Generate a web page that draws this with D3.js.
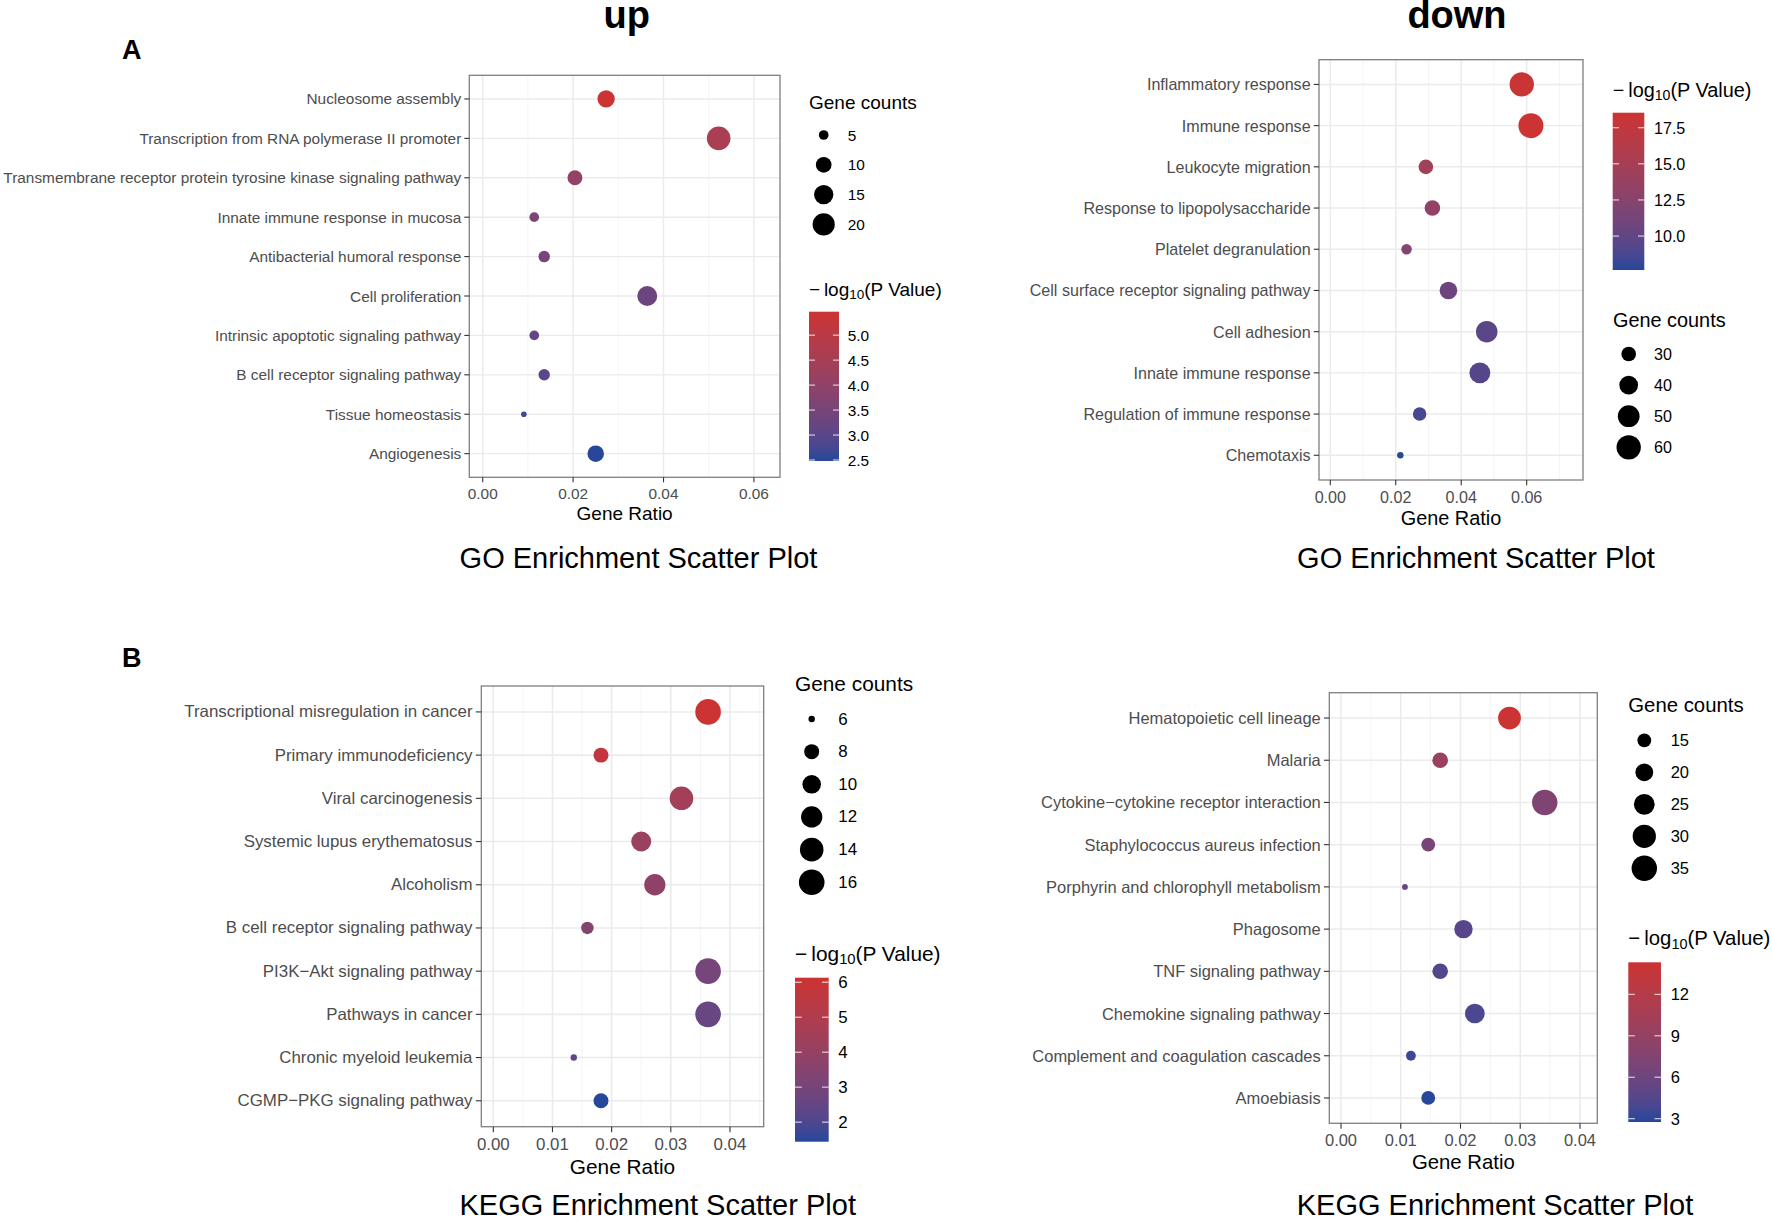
<!DOCTYPE html>
<html>
<head>
<meta charset="utf-8">
<script src="https://cdn.jsdelivr.net/npm/d3@7"></script>
<style>
    body { margin: 0; background: #fff; }
    svg { display: block; font-family: "Liberation Sans", Arial, Helvetica, sans-serif; }
</style>
</head>
<body>
<div id="chart"></div>
<script>
/*
    GO / KEGG ENRICHMENT SCATTER PLOTS (up / down)
*/

// ---- GO, up-regulated
const goUpTerms = ["Nucleosome assembly", "Transcription from RNA polymerase II promoter",
    "Transmembrane receptor protein tyrosine kinase signaling pathway", "Innate immune response in mucosa",
    "Antibacterial humoral response", "Cell proliferation", "Intrinsic apoptotic signaling pathway",
    "B cell receptor signaling pathway", "Tissue homeostasis", "Angiogenesis"]
const goUpRatio = [0.0273, 0.0522, 0.0204, 0.0114, 0.0136, 0.0364, 0.0114, 0.0136, 0.0091, 0.0250]
const goUpCounts = [12, 23, 9, 5, 6, 16, 5, 6, 4, 11]
const goUpLogP = [5.47, 4.6, 4.05, 3.6, 3.5, 3.3, 3.15, 3.0, 2.7, 2.48]
const goUpRatioTicks = [0, 0.02, 0.04, 0.06]
const goUpCountBreaks = [5, 10, 15, 20]
const goUpLogPBreaks = [2.5, 3.0, 3.5, 4.0, 4.5, 5.0]

// ---- GO, down-regulated
const goDownTerms = ["Inflammatory response", "Immune response", "Leukocyte migration",
    "Response to lipopolysaccharide", "Platelet degranulation", "Cell surface receptor signaling pathway",
    "Cell adhesion", "Innate immune response", "Regulation of immune response", "Chemotaxis"]
const goDownRatio = [0.0585, 0.0613, 0.0292, 0.0312, 0.0233, 0.0361, 0.0478, 0.0457, 0.0273, 0.0214]
const goDownCounts = [60, 63, 30, 32, 24, 37, 49, 47, 28, 22]
const goDownLogP = [18.3, 18.54, 14.6, 13.3, 12.2, 10.6, 9.6, 9.3, 8.7, 7.65]
const goDownRatioTicks = [0, 0.02, 0.04, 0.06]
const goDownCountBreaks = [30, 40, 50, 60]
const goDownLogPBreaks = [10.0, 12.5, 15.0, 17.5]

// ---- KEGG, up-regulated
const keggUpTerms = ["Transcriptional misregulation in cancer", "Primary immunodeficiency", "Viral carcinogenesis",
    "Systemic lupus erythematosus", "Alcoholism", "B cell receptor signaling pathway", "PI3K\u2212Akt signaling pathway",
    "Pathways in cancer", "Chronic myeloid leukemia", "CGMP\u2212PKG signaling pathway"]
const keggUpRatio = [0.0363, 0.0182, 0.0318, 0.0250, 0.0273, 0.0159, 0.0363, 0.0363, 0.0136, 0.0182]
const keggUpCounts = [16, 8, 14, 11, 12, 7, 16, 16, 6, 8]
const keggUpLogP = [6.13, 5.7, 4.5, 4.2, 3.8, 3.4, 3.0, 2.6, 2.3, 1.44]
const keggUpRatioTicks = [0, 0.01, 0.02, 0.03, 0.04]
const keggUpCountBreaks = [6, 8, 10, 12, 14, 16]
const keggUpLogPBreaks = [2, 3, 4, 5, 6]

// ---- KEGG, down-regulated
const keggDownTerms = ["Hematopoietic cell lineage", "Malaria", "Cytokine\u2212cytokine receptor interaction",
    "Staphylococcus aureus infection", "Porphyrin and chlorophyll metabolism", "Phagosome", "TNF signaling pathway",
    "Chemokine signaling pathway", "Complement and coagulation cascades", "Amoebiasis"]
const keggDownRatio = [0.0282, 0.0166, 0.0341, 0.0146, 0.0107, 0.0205, 0.0166, 0.0224, 0.0117, 0.0146]
const keggDownCounts = [29, 17, 35, 15, 11, 21, 17, 23, 12, 15]
const keggDownLogP = [14.32, 9.6, 7.3, 6.8, 5.3, 4.7, 4.4, 4.0, 3.4, 2.76]
const keggDownRatioTicks = [0, 0.01, 0.02, 0.03, 0.04]
const keggDownCountBreaks = [15, 20, 25, 30, 35]
const keggDownLogPBreaks = [3, 6, 9, 12]

const lowColor = "#27479b"
const highColor = "#cc3333"

var width = 1772,
    height = 1217;

var svg = d3.select("#chart").append("svg")
    .attr("width", width)
    .attr("height", height)
    .attr("viewBox", "0 0 " + width + " " + height);

// layout of each panel (pixel positions, not data)
const panels = [
    {
        id: "goUp", terms: goUpTerms, ratio: goUpRatio, counts: goUpCounts, logp: goUpLogP,
        ticks: goUpRatioTicks, countBreaks: goUpCountBreaks, logpBreaks: goUpLogPBreaks, logpFmt: ".1f",
        title: "GO Enrichment Scatter Plot",
        box: [469.3, 75.3, 780, 477.3], xDomain: [-0.00297, 0.06577], k: 1, rRange: [2.8, 11.8],
        sizeLeg: { x: 809, titleY: 102.7, cx: 823.7, y0: 135, step: 29.8, labelX: 847.7 },
        colLeg: { x: 809, titleY: 289.3, w: 30, top: 311.7, bottom: 461, labelX: 847.7 },
        main: { x: 638.5, y: 558 }
    },
    {
        id: "goDown", terms: goDownTerms, ratio: goDownRatio, counts: goDownCounts, logp: goDownLogP,
        ticks: goDownRatioTicks, countBreaks: goDownCountBreaks, logpBreaks: goDownLogPBreaks, logpFmt: ".1f",
        title: "GO Enrichment Scatter Plot",
        box: [1319, 59.7, 1583, 480], xDomain: [-0.00345, 0.07721], k: 1.046, rRange: [3.2, 12.5],
        sizeLeg: { x: 1613, titleY: 320, cx: 1628.7, y0: 354, step: 31.1, labelX: 1654 },
        colLeg: { x: 1612.7, titleY: 90, w: 31.6, top: 112.7, bottom: 270, labelX: 1654 },
        main: { x: 1476, y: 558 }
    },
    {
        id: "keggUp", terms: keggUpTerms, ratio: keggUpRatio, counts: keggUpCounts, logp: keggUpLogP,
        ticks: keggUpRatioTicks, countBreaks: keggUpCountBreaks, logpBreaks: keggUpLogPBreaks, logpFmt: "d",
        title: "KEGG Enrichment Scatter Plot",
        box: [481.3, 686, 763.7, 1126.7], xDomain: [-0.00203, 0.0457], k: 1.097, rRange: [3.2, 12.8],
        sizeLeg: { x: 795, titleY: 683.3, cx: 811.7, y0: 719, step: 32.66, labelX: 838.3 },
        colLeg: { x: 795, titleY: 953.3, w: 33.7, top: 977.7, bottom: 1141.7, labelX: 838.3 },
        main: { x: 657.7, y: 1204.7 }
    },
    {
        id: "keggDown", terms: keggDownTerms, ratio: keggDownRatio, counts: keggDownCounts, logp: keggDownLogP,
        ticks: keggDownRatioTicks, countBreaks: keggDownCountBreaks, logpBreaks: keggDownLogPBreaks, logpFmt: "d",
        title: "KEGG Enrichment Scatter Plot",
        box: [1329.3, 692.7, 1597.3, 1123.3], xDomain: [-0.00196, 0.0429], k: 1.07, rRange: [2.9, 12.7],
        sizeLeg: { x: 1628.3, titleY: 705, cx: 1644.3, y0: 740.3, step: 32, labelX: 1670.7 },
        colLeg: { x: 1628.3, titleY: 938.3, w: 32.7, top: 962.3, bottom: 1122, labelX: 1670.7 },
        main: { x: 1495, y: 1204.7 }
    }
]

const defs = svg.append("defs")

const drawPanel = (p) => {
    const k = p.k
    const [x0, y0, x1, y1] = p.box
    const g = svg.append("g").attr("class", "panel " + p.id)

    const data = p.terms.map((t, i) => ({ term: t, ratio: p.ratio[i], count: p.counts[i], logp: p.logp[i] }))

    var xScale = d3.scaleLinear().domain(p.xDomain).range([x0, x1])
    var yScale = d3.scalePoint().domain(p.terms).range([y0, y1]).padding(0.6)

    // area-style size scale (ggplot scale_size): radius grows with sqrt of rescaled count
    const norm = d3.scaleLinear().domain(d3.extent(p.counts)).range([0, 1]).clamp(true)
    const rLin = d3.scaleLinear().domain([0, 1]).range(p.rRange)
    const rScale = (v) => rLin(Math.sqrt(norm(v)))

    const colorScale = d3.scaleLinear()
        .domain(d3.extent(p.logp))
        .range([lowColor, highColor])
        .interpolate(d3.interpolateLab)

    // grid
    const step = p.ticks[1] - p.ticks[0]
    const minor = p.ticks.map((t) => t + step / 2).filter((v) => v > p.xDomain[0] && v < p.xDomain[1])

    g.append("rect")
        .attr("x", x0).attr("y", y0)
        .attr("width", x1 - x0).attr("height", y1 - y0)
        .attr("fill", "#fff")

    g.selectAll(".minor").data(minor).join("line")
        .attr("class", "minor")
        .attr("x1", (d) => xScale(d)).attr("x2", (d) => xScale(d))
        .attr("y1", y0).attr("y2", y1)
        .attr("stroke", "#f2f2f2").attr("stroke-width", 0.8 * k)

    g.selectAll(".vmajor").data(p.ticks).join("line")
        .attr("class", "vmajor")
        .attr("x1", (d) => xScale(d)).attr("x2", (d) => xScale(d))
        .attr("y1", y0).attr("y2", y1)
        .attr("stroke", "#ebebeb").attr("stroke-width", 1.4 * k)

    g.selectAll(".hmajor").data(p.terms).join("line")
        .attr("class", "hmajor")
        .attr("x1", x0).attr("x2", x1)
        .attr("y1", (d) => yScale(d)).attr("y2", (d) => yScale(d))
        .attr("stroke", "#ebebeb").attr("stroke-width", 1.4 * k)

    // points
    g.selectAll(".dot").data(data).join("circle")
        .attr("class", "dot")
        .attr("cx", (d) => xScale(d.ratio))
        .attr("cy", (d) => yScale(d.term))
        .attr("r", (d) => rScale(d.count))
        .attr("fill", (d) => colorScale(d.logp))

    g.append("rect")
        .attr("x", x0).attr("y", y0)
        .attr("width", x1 - x0).attr("height", y1 - y0)
        .attr("fill", "none")
        .attr("stroke", "#7f7f7f").attr("stroke-width", 1.3)

    // y axis
    g.selectAll(".ytick").data(p.terms).join("line")
        .attr("class", "ytick")
        .attr("x1", x0 - 5 * k).attr("x2", x0)
        .attr("y1", (d) => yScale(d)).attr("y2", (d) => yScale(d))
        .attr("stroke", "#333").attr("stroke-width", 1.1)

    g.selectAll(".ylab").data(p.terms).join("text")
        .attr("class", "ylab")
        .attr("x", x0 - 8 * k)
        .attr("y", (d) => yScale(d))
        .attr("text-anchor", "end")
        .attr("dominant-baseline", "central")
        .style("font-size", 15.4 * k + "px")
        .style("fill", "#4d4d4d")
        .text((d) => d)

    // x axis
    g.selectAll(".xtick").data(p.ticks).join("line")
        .attr("class", "xtick")
        .attr("x1", (d) => xScale(d)).attr("x2", (d) => xScale(d))
        .attr("y1", y1).attr("y2", y1 + 5 * k)
        .attr("stroke", "#333").attr("stroke-width", 1.1)

    g.selectAll(".xlab").data(p.ticks).join("text")
        .attr("class", "xlab")
        .attr("x", (d) => xScale(d))
        .attr("y", y1 + 16 * k)
        .attr("text-anchor", "middle")
        .attr("dominant-baseline", "central")
        .style("font-size", 15.4 * k + "px")
        .style("fill", "#4d4d4d")
        .text((d) => d3.format(".2f")(d))

    g.append("text")
        .attr("x", (x0 + x1) / 2)
        .attr("y", y1 + 36 * k)
        .attr("text-anchor", "middle")
        .attr("dominant-baseline", "central")
        .style("font-size", 19 * k + "px")
        .text("Gene Ratio")

    // size legend
    const sl = p.sizeLeg
    g.append("text")
        .attr("x", sl.x).attr("y", sl.titleY)
        .attr("dominant-baseline", "central")
        .style("font-size", 19 * k + "px")
        .text("Gene counts")

    g.selectAll(".sizeKey").data(p.countBreaks).join("circle")
        .attr("class", "sizeKey")
        .attr("cx", sl.cx)
        .attr("cy", (d, i) => sl.y0 + i * sl.step)
        .attr("r", (d) => rScale(d))
        .attr("fill", "#000")

    g.selectAll(".sizeLab").data(p.countBreaks).join("text")
        .attr("class", "sizeLab")
        .attr("x", sl.labelX)
        .attr("y", (d, i) => sl.y0 + i * sl.step)
        .attr("dominant-baseline", "central")
        .style("font-size", 15.4 * k + "px")
        .text((d) => d)

    // colour bar legend
    const cl = p.colLeg
    const title = g.append("text")
        .attr("x", cl.x).attr("y", cl.titleY)
        .attr("dominant-baseline", "central")
        .style("font-size", 19 * k + "px")
    title.append("tspan").text("\u2212\u2009log")
    title.append("tspan").attr("dy", 5 * k).style("font-size", 13.5 * k + "px").text("10")
    title.append("tspan").attr("dy", -5 * k).text("(P Value)")

    const grad = defs.append("linearGradient")
        .attr("id", "grad-" + p.id)
        .attr("x1", 0).attr("y1", 1).attr("x2", 0).attr("y2", 0)
    const ext = d3.extent(p.logp)
    d3.range(0, 1.0001, 0.1).forEach((t) => {
        grad.append("stop")
            .attr("offset", t)
            .attr("stop-color", colorScale(ext[0] + t * (ext[1] - ext[0])))
    })

    g.append("rect")
        .attr("x", cl.x).attr("y", cl.top)
        .attr("width", cl.w).attr("height", cl.bottom - cl.top)
        .attr("fill", "url(#grad-" + p.id + ")")

    const barScale = d3.scaleLinear().domain(ext).range([cl.bottom, cl.top])

    for (let side of [0, 1]) {
        g.selectAll(".cbTick" + side).data(p.logpBreaks).join("line")
            .attr("class", "cbTick" + side)
            .attr("x1", side ? cl.x + cl.w * 0.8 : cl.x)
            .attr("x2", side ? cl.x + cl.w : cl.x + cl.w * 0.2)
            .attr("y1", (d) => barScale(d)).attr("y2", (d) => barScale(d))
            .attr("stroke", "#fff").attr("stroke-opacity", 0.8).attr("stroke-width", 1.1)
    }

    g.selectAll(".cbLab").data(p.logpBreaks).join("text")
        .attr("class", "cbLab")
        .attr("x", cl.labelX)
        .attr("y", (d) => barScale(d))
        .attr("dominant-baseline", "central")
        .style("font-size", 15.4 * k + "px")
        .text((d) => d3.format(p.logpFmt)(d))

    // panel title
    g.append("text")
        .attr("x", p.main.x).attr("y", p.main.y)
        .attr("text-anchor", "middle")
        .attr("dominant-baseline", "central")
        .style("font-size", "29px")
        .text(p.title)
}

panels.forEach(drawPanel)

// column headers and panel letters
svg.append("text")
    .attr("x", 626.7).attr("y", 28)
    .attr("text-anchor", "middle")
    .style("font-size", "38px").style("font-weight", "bold")
    .text("up")

svg.append("text")
    .attr("x", 1457).attr("y", 28)
    .attr("text-anchor", "middle")
    .style("font-size", "38px").style("font-weight", "bold")
    .text("down")

svg.append("text")
    .attr("x", 122).attr("y", 59.3)
    .style("font-size", "27px").style("font-weight", "bold")
    .text("A")

svg.append("text")
    .attr("x", 122).attr("y", 667)
    .style("font-size", "27px").style("font-weight", "bold")
    .text("B")
</script>
</body>
</html>
